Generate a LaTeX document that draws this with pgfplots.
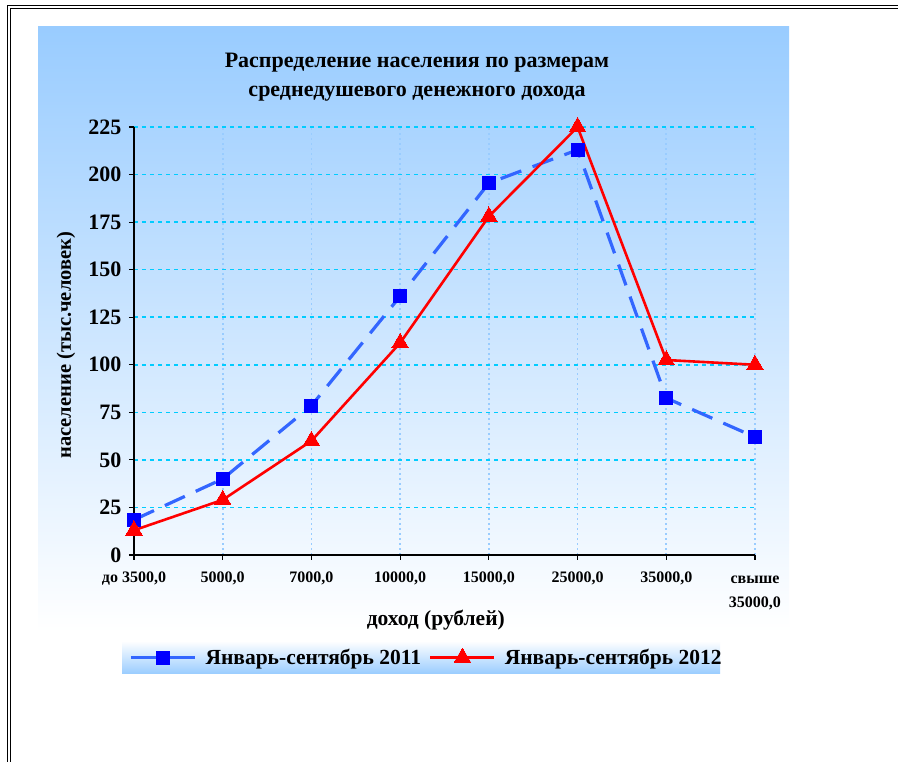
\documentclass[border=0pt]{standalone}
\usepackage{pgfplots}
\pgfplotsset{compat=1.18}
\usepackage{fontspec}
\setmainfont{Liberation Serif}

\definecolor{bgblue}{HTML}{99CCFF}
\definecolor{lineblue}{HTML}{3366FF}
\definecolor{markblue}{HTML}{0000FF}
\definecolor{hgrid}{HTML}{00CCFF}
\definecolor{vgrid}{HTML}{99CCFF}

\begin{document}
\begin{tikzpicture}[x=1pt,y=1pt]
% page = 898 x 762, y measured upward
\useasboundingbox (0,0) rectangle (898,762);
\fill[white] (0,0) rectangle (898,762);
% double frame
\draw[line width=1pt] (7,0) -- (7,756) -- (898,756);
\draw[line width=1pt] (10,0) -- (10,753) -- (898,753);
% chart area
\shade[top color=bgblue, bottom color=white] (38,130) rectangle (789,735);
% legend box
\shade[top color=white, bottom color=bgblue] (122,88) rectangle (720,121);
% title
\node[align=center, font=\fontsize{22}{29}\selectfont\bfseries] at (417,685)
  {Распределение населения по размерам\\среднедушевого денежного дохода};

\begin{axis}[
  at={(134pt,207pt)}, anchor=south west,
  scale only axis, width=621pt, height=428pt,
  xmin=0, xmax=7, ymin=0, ymax=225,
  axis x line*=bottom, axis y line*=left,
  every non boxed x axis/.append style={x axis line style={-}},
  every non boxed y axis/.append style={y axis line style={-}},
  axis line style={black, line width=1.2pt},
  xtick={0,...,7},
  xticklabels={{до 3500,0}, {5000,0}, {7000,0}, {10000,0}, {15000,0}, {25000,0}, {35000,0}, {\strut свыше\\[7pt]35000,0}},
  ytick={0,25,...,225},
  tick align=outside, major tick length=5pt,
  tick style={black, line width=1.2pt},
  /pgf/number format/assume math mode=true,
  yticklabel style={font=\fontsize{22}{22}\selectfont\bfseries, xshift=-4pt},
  xticklabel style={font=\fontsize{16}{17}\selectfont\bfseries, align=center, yshift=-8pt},
  xmajorgrids, ymajorgrids,
  major x grid style={vgrid, line width=1.8pt, dash pattern=on 2pt off 3pt},
  major y grid style={hgrid, line width=1.5pt, dash pattern=on 4pt off 4pt},
  xlabel={доход (рублей)},
  ylabel={население (тыс.человек)},
  xlabel style={at={(axis description cs:0.486,0)}, anchor=center, yshift=-65pt,
    font=\fontsize{21.5}{21.5}\selectfont\bfseries},
  ylabel style={at={(axis description cs:-0.1095,0.49)}, anchor=center,
    font=\fontsize{20.5}{20.5}\selectfont\bfseries},
  legend style={at={(axis description cs:0.471,-0.2395)}, anchor=center,
    draw=none, fill=none, legend columns=2,
    font=\fontsize{21.5}{21.5}\selectfont\bfseries,
    /tikz/every odd column/.append style={column sep=7pt},
    /tikz/every even column/.append style={column sep=6pt}},
  legend image code/.code={\draw[#1, solid, mark repeat=2, mark phase=2]
    plot coordinates {(0pt,0pt) (32pt,0pt) (64pt,0pt)};},
  clip=false,
]
\addplot[lineblue, line width=3.2pt, dash pattern=on 22pt off 12pt,
  mark=square*, mark size=6.5pt,
  mark options={solid, fill=markblue, draw=markblue, line width=0pt}]
  coordinates {(0,18.5) (1,40) (2,78.5) (3,136) (4,195.5) (5,213) (6,82.5) (7,62)};
\addlegendentry{Январь-сентябрь 2011}
\addplot[red, line width=2.6pt,
  mark=triangle*, mark size=9.5pt,
  mark options={solid, fill=red, draw=red, line width=0pt}]
  coordinates {(0,13) (1,29) (2,60) (3,111.5) (4,178) (5,225) (6,102.5) (7,100)};
\addlegendentry{Январь-сентябрь 2012}
\end{axis}
\end{tikzpicture}
\end{document}
